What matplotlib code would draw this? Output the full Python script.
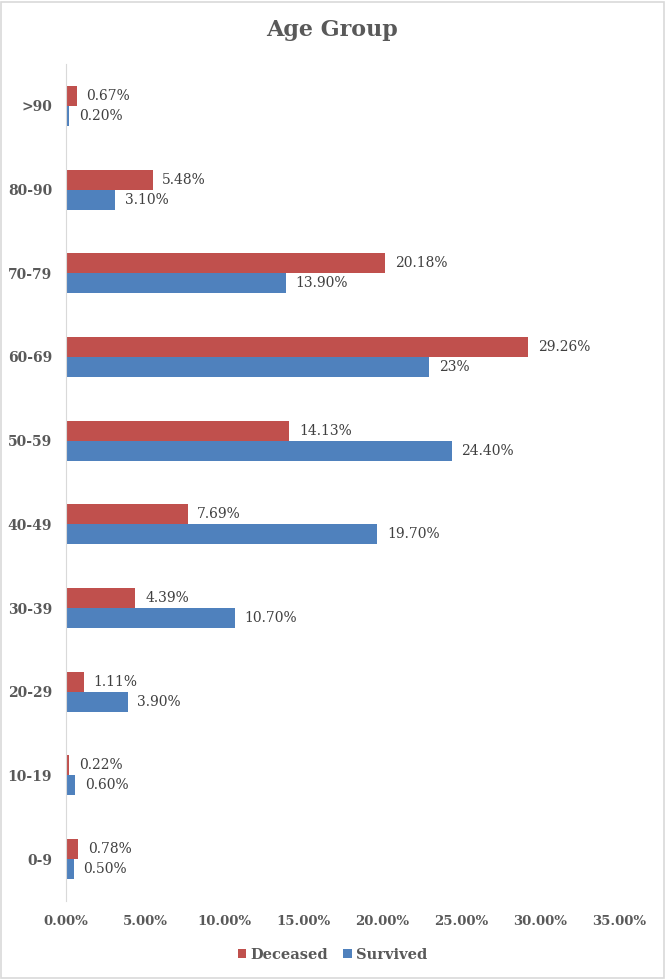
import numpy as np
import matplotlib.pyplot as plt
from matplotlib.patches import Rectangle

# --- Data ---
age_groups = ["0-9", "10-19", "20-29", "30-39", "40-49",
              "50-59", "60-69", "70-79", "80-90", ">90"]
deceased = [0.78, 0.22, 1.11, 4.39, 7.69, 14.13, 29.26, 20.18, 5.48, 0.67]
survived = [0.50, 0.60, 3.90, 10.70, 19.70, 24.40, 23.0, 13.90, 3.10, 0.20]
deceased_labels = ["0.78%", "0.22%", "1.11%", "4.39%", "7.69%",
                   "14.13%", "29.26%", "20.18%", "5.48%", "0.67%"]
survived_labels = ["0.50%", "0.60%", "3.90%", "10.70%", "19.70%",
                   "24.40%", "23%", "13.90%", "3.10%", "0.20%"]
xticks = [0, 5, 10, 15, 20, 25, 30, 35]

plt.rcParams["font.family"] = ["DejaVu Serif"]

red = "#C0504D"
blue = "#4F81BD"
grey = "#595959"

fig = plt.figure(figsize=(6.65, 9.8), dpi=100)
ax = fig.add_axes([66 / 665, 1 - 901 / 980, (619 - 66) / 665, (901 - 64) / 980])

y = np.arange(len(age_groups))
h = 0.239
ax.barh(y + h / 2, deceased, height=h, color=red, label="Deceased")
ax.barh(y - h / 2, survived, height=h, color=blue, label="Survived")

for yi, v, s in zip(y, deceased, deceased_labels):
    ax.annotate(s, (v, yi + h / 2), xytext=(7, 0), textcoords="offset points",
                va="center", ha="left", fontsize=10, color="#404040")
for yi, v, s in zip(y, survived, survived_labels):
    ax.annotate(s, (v, yi - h / 2), xytext=(7, 0), textcoords="offset points",
                va="center", ha="left", fontsize=10, color="#404040")

ax.set_xlim(0, 35)
ax.set_ylim(-0.5, len(age_groups) - 0.5)
ax.set_yticks(y)
ax.set_yticklabels(age_groups, fontweight="bold", color=grey, fontsize=10)
ax.set_xticks(xticks)
ax.set_xticklabels([f"{t:.2f}%" for t in xticks], fontweight="bold",
                   color=grey, fontsize=9.5)
ax.tick_params(axis="both", length=0)
ax.tick_params(axis="x", pad=10)
ax.tick_params(axis="y", pad=10)

for side in ["top", "right", "bottom"]:
    ax.spines[side].set_visible(False)
ax.spines["left"].set_color("#D9D9D9")

fig.text(0.5, 1 - 30 / 980, "Age Group", ha="center", va="center",
         fontsize=16, fontweight="bold", color=grey)

fig.legend(loc="center", bbox_to_anchor=(0.5, 1 - 955 / 980), ncol=2,
           frameon=False, handlelength=0.6, handleheight=0.6,
           handletextpad=0.3, columnspacing=1.0,
           prop={"weight": "bold", "size": 10.5}, labelcolor=grey)

fig.patches.append(Rectangle((0.002, 0.002), 0.996, 0.996, transform=fig.transFigure,
                             fill=False, edgecolor="#D9D9D9", linewidth=1.2))

plt.savefig("out.png", dpi=100)
plt.close()
